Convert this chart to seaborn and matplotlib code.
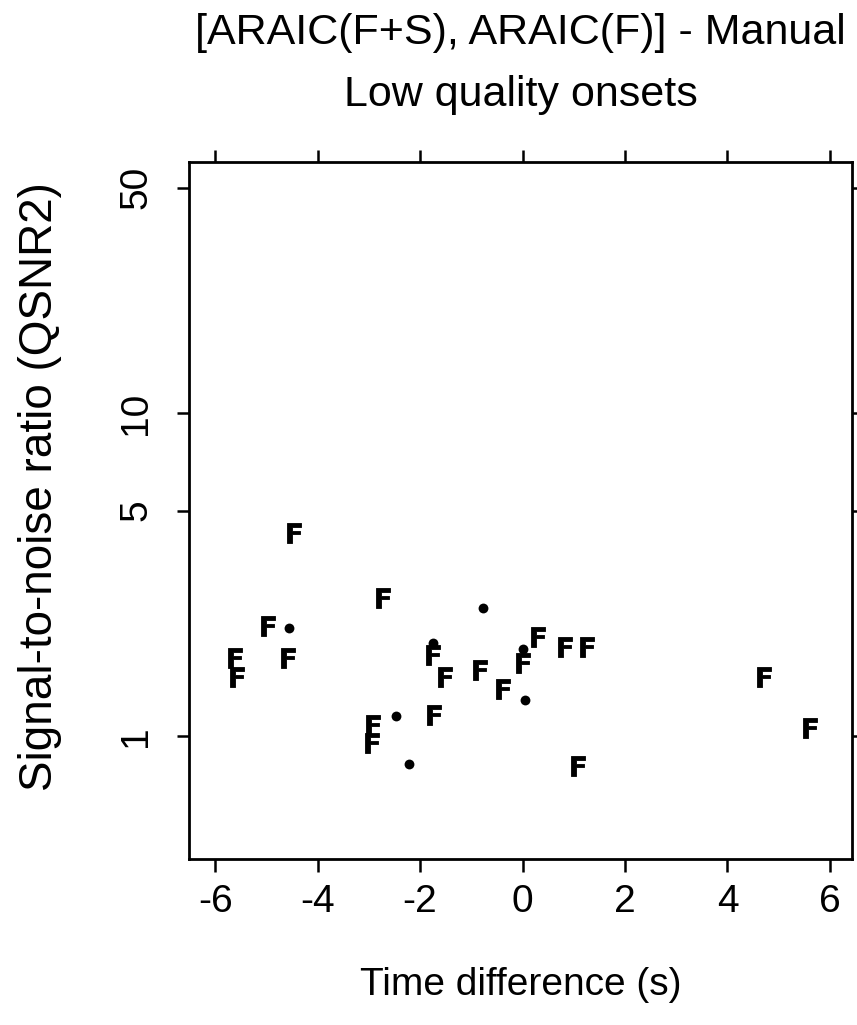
import matplotlib
matplotlib.use("Agg")
import matplotlib.pyplot as plt
import seaborn as sns
import pandas as pd

# ---- data ----
f_time = [-4.47, -2.73, -4.96, -5.61, -5.58, -4.57, -1.75, -1.51, -0.83, -0.39,
          0.00, -1.72, -2.91, -2.94, 0.31, 0.83, 1.25, 1.08, 4.72, 5.61]
f_snr = [4.25, 2.67, 2.19, 1.75, 1.52, 1.75, 1.78, 1.52, 1.60, 1.40,
         1.68, 1.16, 1.08, 0.95, 2.03, 1.89, 1.89, 0.81, 1.52, 1.06]
dot_time = [-0.78, -4.55, -1.74, 0.00, 0.05, -2.47, -2.21]
dot_snr = [2.50, 2.16, 1.94, 1.86, 1.29, 1.15, 0.82]

x_ticks = [-6, -4, -2, 0, 2, 4, 6]
y_ticks = [1, 5, 10, 50]
title_lines = ["[ARAIC(F+S), ARAIC(F)] - Manual", "Low quality onsets"]
x_label = "Time difference (s)"
y_label = "Signal-to-noise ratio (QSNR2)"

sns.set_style("ticks")
plt.rcParams["font.family"] = ["Liberation Sans", "DejaVu Sans"]
plt.rcParams["text.color"] = "black"
plt.rcParams["axes.labelcolor"] = "black"
plt.rcParams["xtick.color"] = "black"
plt.rcParams["ytick.color"] = "black"

W, H = 857, 1025
fig = plt.figure(figsize=(W / 100, H / 100), dpi=100)
L, R, T, B = 189, 852, 162, 859
ax = fig.add_axes([L / W, 1 - B / H, (R - L) / W, (B - T) / H])

df_f = pd.DataFrame({"t": f_time, "snr": f_snr})
df_d = pd.DataFrame({"t": dot_time, "snr": dot_snr})

sns.scatterplot(data=df_f, x="t", y="snr", marker=r"$\mathbf{F}$", s=200,
                color="black", edgecolor="black", linewidth=0.6, ax=ax)
sns.scatterplot(data=df_d, x="t", y="snr", marker="o", s=50,
                color="black", linewidth=0, ax=ax)

ax.set_yscale("log")
ax.set_xlim(-6.51, 6.43)
ax.set_ylim(0.416, 60.1)
ax.set_xticks(x_ticks)
ax.set_xticklabels([str(v) for v in x_ticks])
ax.set_yticks(y_ticks)
ax.set_yticklabels([str(v) for v in y_ticks])
ax.minorticks_off()

for sp in ax.spines.values():
    sp.set_visible(True)
    sp.set_linewidth(2.0)
    sp.set_color("black")

ax.tick_params(axis="both", which="major", direction="out", length=9, width=1.8,
               color="black", labelcolor="black", labelsize=28, top=True, right=True,
               labeltop=False, labelright=False)
ax.tick_params(axis="x", pad=9)
ax.tick_params(axis="y", pad=16, labelrotation=90)
for lab in ax.get_yticklabels():
    lab.set_va("center")

ax.set_xlabel(x_label, fontsize=28, color="black")
ax.set_ylabel(y_label, fontsize=33, color="black")
ax.xaxis.label.set_va("center")
ax.yaxis.label.set_va("center")
ax.xaxis.set_label_coords(0.5, (B - 985) / (B - T))
ax.yaxis.set_label_coords((40 - L) / (R - L), (B - 487) / (B - T))

cx = (L + R) / 2 / W
fig.text(cx, 1 - 33 / H, title_lines[0], ha="center", va="center", fontsize=31)
fig.text(cx, 1 - 95 / H, title_lines[1], ha="center", va="center", fontsize=31)

fig.savefig("out.png", dpi=100, facecolor="white")
